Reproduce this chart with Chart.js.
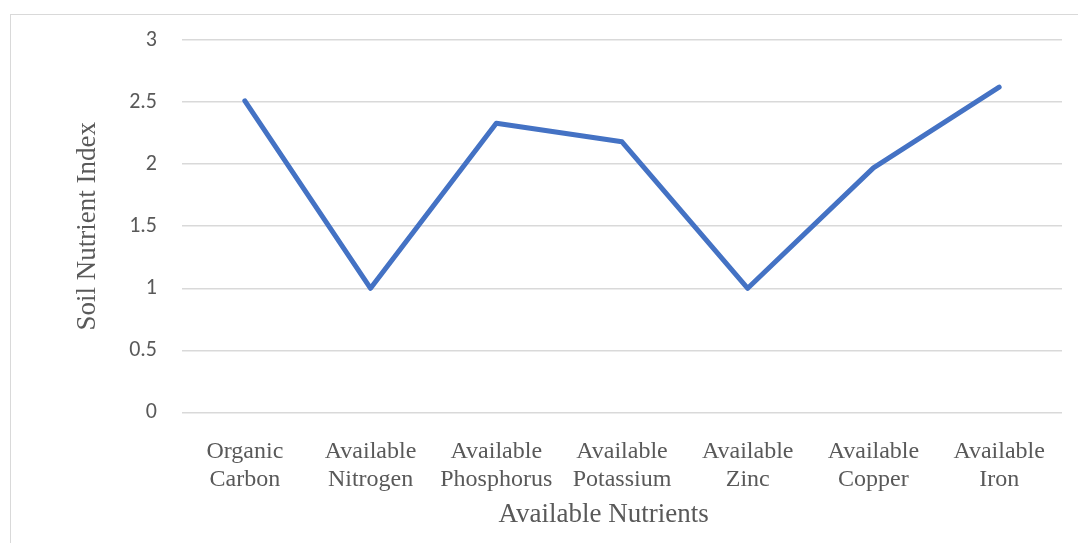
<!DOCTYPE html>
<html>
<head>
<meta charset="utf-8">
<script src="https://cdn.jsdelivr.net/npm/chart.js@4.4.1/dist/chart.umd.min.js"></script>
<style>
  html, body { margin: 0; padding: 0; background: #fff; }
  #wrap { position: relative; width: 1078px; height: 543px; overflow: hidden; }
  #frame { position: absolute; left: 10px; top: 14px; width: 1100px; height: 600px; border: 1px solid #d9d9d9; box-sizing: border-box; }
  #chart { position: absolute; left: 0; top: 0; }
</style>
</head>
<body>
<div id="wrap">
  <div id="frame"></div>
  <canvas id="chart" width="1078" height="543"></canvas>
</div>
<script>
const categories = [
  ['Organic', 'Carbon'],
  ['Available', 'Nitrogen'],
  ['Available', 'Phosphorus'],
  ['Available', 'Potassium'],
  ['Available', 'Zinc'],
  ['Available', 'Copper'],
  ['Available', 'Iron']
];
const nutrientIndex = [2.51, 1.0, 2.33, 2.18, 1.0, 1.97, 2.62];
const yTicks = ['0', '0.5', '1', '1.5', '2', '2.5', '3'];
const xTitle = 'Available Nutrients';

const serif = '"Liberation Serif", "Times New Roman", serif';

// excel centres the x title on the whole chart, not the plot area
const xTitlePlugin = {
  id: 'xTitle',
  afterDraw(chart) {
    const c = chart.ctx;
    const x = chart.scales.x;
    c.save();
    c.font = '27px ' + serif;
    c.fillStyle = '#595959';
    c.textAlign = 'center';
    c.textBaseline = 'middle';
    c.fillText(xTitle, chart.width * 0.56, x.bottom - 15);
    c.restore();
  }
};

const ctx = document.getElementById('chart').getContext('2d');
new Chart(ctx, {
  type: 'line',
  data: {
    labels: categories,
    datasets: [{
      label: 'Soil Nutrient Index',
      data: nutrientIndex,
      borderColor: '#4472C4',
      borderWidth: 5,
      pointRadius: 0,
      tension: 0,
      borderCapStyle: 'round',
      borderJoinStyle: 'round'
    }]
  },
  options: {
    responsive: false,
    animation: false,
    layout: { padding: { left: 60, right: 16, top: 40, bottom: 13 } },
    plugins: { legend: { display: false }, tooltip: { enabled: false } },
    scales: {
      x: {
        offset: true,
        grid: { display: false, drawTicks: false },
        border: { display: false },
        ticks: {
          color: '#595959',
          padding: 25,
          maxRotation: 0,
          autoSkip: false,
          font: { family: serif, size: 24, lineHeight: 1.17 }
        },
        title: {
          display: true,
          text: xTitle,
          color: 'rgba(0,0,0,0)',
          padding: { top: -21, bottom: 0 },
          font: { family: serif, size: 27 }
        }
      },
      y: {
        min: 0,
        max: 3,
        afterFit: scale => { scale.width = 122; },
        grid: { color: '#d9d9d9', lineWidth: 1.5, drawTicks: false },
        border: { display: false },
        ticks: {
          stepSize: 0.5,
          color: '#595959',
          padding: 25,
          callback: (v, i) => yTicks[i],
          font: { family: 'Carlito, "Open Sans", sans-serif', size: 22 }
        },
        title: {
          display: true,
          text: 'Soil Nutrient Index',
          color: '#595959',
          padding: { top: 12, bottom: 0 },
          font: { family: serif, size: 27 }
        }
      }
    }
  },
  plugins: [xTitlePlugin]
});
</script>
</body>
</html>
